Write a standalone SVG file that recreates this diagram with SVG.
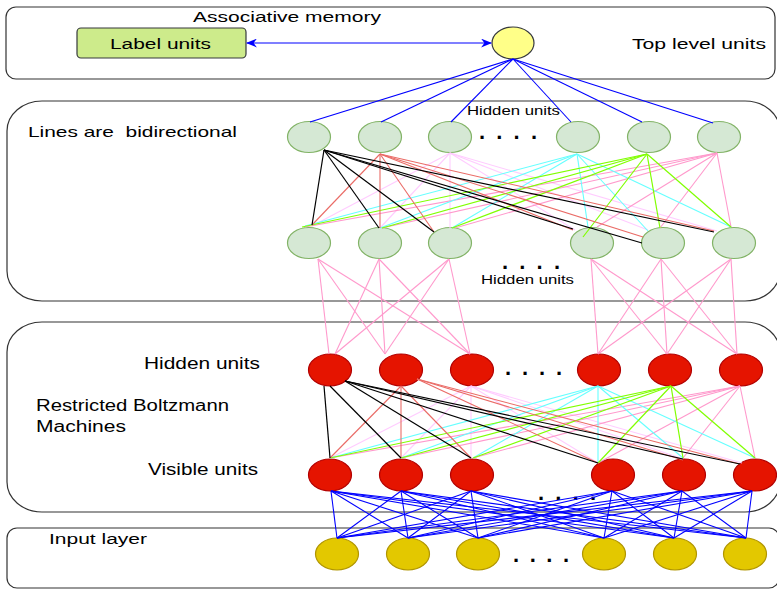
<svg xmlns="http://www.w3.org/2000/svg" width="777" height="589" viewBox="0 0 777 589">
  <style>
    .box { fill: #ffffff; stroke: #333333; stroke-width: 1.2; }
    .lbl { font-family: "Liberation Sans", Arial, sans-serif; fill: #000000; white-space: pre; }
    .dots { font-family: "Liberation Sans", Arial, sans-serif; font-weight: bold; font-size: 22px; fill: #000000; }
    .g { fill: #d5e8d4; stroke: #82b366; stroke-width: 1.2; }
    .r { fill: #e51400; stroke: #b20000; stroke-width: 1.2; }
    .y { fill: #e3c800; stroke: #b09500; stroke-width: 1.2; }
    .k { stroke: #000000; stroke-width: 1.2; }
    .rd { stroke: #ea6b66; stroke-width: 1.1; }
    .lp { stroke: #ffccff; stroke-width: 1.1; }
    .cy { stroke: #66ffff; stroke-width: 1.1; }
    .gr { stroke: #80ff00; stroke-width: 1.2; }
    .pk { stroke: #ff99cc; stroke-width: 1.1; }
    .bl { stroke: #0000ff; stroke-width: 1.1; }
  </style>
  <defs>
    <marker id="arrow" viewBox="0 0 10 8" refX="9" refY="4" markerWidth="11" markerHeight="9" markerUnits="userSpaceOnUse" orient="auto-start-reverse">
      <path d="M0,0 L10,4 L0,8 L3,4 Z" fill="#0000ff"/>
    </marker>
  </defs>

  <rect width="777" height="589" fill="#ffffff"/>

  <!-- layer containers -->
  <g id="containers">
    <rect id="assoc-box" class="box" x="6" y="7" width="769" height="72" rx="10" ry="10"/>
    <rect id="dbn-box" class="box" x="7" y="101" width="773" height="200" rx="35" ry="30"/>
    <rect id="rbm-box" class="box" x="7" y="322" width="773" height="190" rx="35" ry="30"/>
    <rect id="input-box" class="box" x="7" y="528" width="772" height="60" rx="10" ry="10"/>
  </g>

  <!-- labels -->
  <g id="labels">
    <text class="lbl" x="193" y="22" font-size="15.5" textLength="188" lengthAdjust="spacingAndGlyphs">Associative memory</text>
    <text class="lbl" x="632" y="49" font-size="15.5" textLength="134" lengthAdjust="spacingAndGlyphs">Top level units</text>
    <text class="lbl" x="28" y="137" font-size="15" textLength="209" lengthAdjust="spacingAndGlyphs" xml:space="preserve">Lines are  bidirectional</text>
    <text class="lbl" x="467" y="115" font-size="12.5" textLength="93" lengthAdjust="spacingAndGlyphs">Hidden units</text>
    <text class="lbl" x="481" y="284" font-size="12.5" textLength="93" lengthAdjust="spacingAndGlyphs">Hidden units</text>
    <text class="lbl" x="144" y="369" font-size="16" textLength="116" lengthAdjust="spacingAndGlyphs">Hidden units</text>
    <text class="lbl" x="36" y="411" font-size="16" textLength="193" lengthAdjust="spacingAndGlyphs">Restricted Boltzmann</text>
    <text class="lbl" x="36" y="432" font-size="16" textLength="90" lengthAdjust="spacingAndGlyphs">Machines</text>
    <text class="lbl" x="148" y="475" font-size="16" textLength="110" lengthAdjust="spacingAndGlyphs">Visible units</text>
    <text class="lbl" x="49" y="544" font-size="15.5" textLength="98" lengthAdjust="spacingAndGlyphs">Input layer</text>
    <text class="dots" x="479" y="139" textLength="58">. . . .</text>
    <text class="dots" x="502" y="269" textLength="58">. . . .</text>
    <text class="dots" x="505" y="375" textLength="57">. . . .</text>
    <text class="dots" x="538" y="500" textLength="58">. . . .</text>
    <text class="dots" x="513" y="562" textLength="56">. . . .</text>
  </g>

  <!-- associative memory nodes -->
  <g id="label-units">
    <rect x="77" y="28" width="169" height="30" rx="4" ry="4" fill="#cdeb8b" stroke="#36393d" stroke-width="1.2"/>
    <text class="lbl" x="110" y="49" font-size="15.5" textLength="101" lengthAdjust="spacingAndGlyphs">Label units</text>
  </g>
  <g id="top-unit">
    <ellipse cx="513" cy="43" rx="21" ry="16" fill="#ffff88" stroke="#36393d" stroke-width="1.2"/>
  </g>

  <!-- upper hidden layer -->
  <g id="h2-1"><ellipse class="g" cx="309" cy="137" rx="21.5" ry="15.5"/></g>
  <g id="h2-2"><ellipse class="g" cx="380" cy="137" rx="21.5" ry="15.5"/></g>
  <g id="h2-3"><ellipse class="g" cx="450" cy="137" rx="21.5" ry="15.5"/></g>
  <g id="h2-4"><ellipse class="g" cx="578" cy="137" rx="21.5" ry="15.5"/></g>
  <g id="h2-5"><ellipse class="g" cx="649" cy="137" rx="21.5" ry="15.5"/></g>
  <g id="h2-6"><ellipse class="g" cx="719" cy="137" rx="21.5" ry="15.5"/></g>

  <!-- lower hidden layer -->
  <g id="h1-1"><ellipse class="g" cx="309" cy="243" rx="21.5" ry="15.5"/></g>
  <g id="h1-2"><ellipse class="g" cx="380" cy="243" rx="21.5" ry="15.5"/></g>
  <g id="h1-3"><ellipse class="g" cx="450" cy="243" rx="21.5" ry="15.5"/></g>
  <g id="h1-4"><ellipse class="g" cx="592" cy="243" rx="21.5" ry="15.5"/></g>
  <g id="h1-5"><ellipse class="g" cx="663" cy="243" rx="21.5" ry="15.5"/></g>
  <g id="h1-6"><ellipse class="g" cx="734" cy="243" rx="21.5" ry="15.5"/></g>

  <!-- RBM hidden units -->
  <g id="rh-1"><ellipse class="r" cx="330" cy="370" rx="21.5" ry="16"/></g>
  <g id="rh-2"><ellipse class="r" cx="401" cy="370" rx="21.5" ry="16"/></g>
  <g id="rh-3"><ellipse class="r" cx="472" cy="370" rx="21.5" ry="16"/></g>
  <g id="rh-4"><ellipse class="r" cx="599" cy="370" rx="21.5" ry="16"/></g>
  <g id="rh-5"><ellipse class="r" cx="670" cy="370" rx="21.5" ry="16"/></g>
  <g id="rh-6"><ellipse class="r" cx="741" cy="370" rx="21.5" ry="16"/></g>

  <!-- RBM visible units -->
  <g id="rv-1"><ellipse class="r" cx="330" cy="475" rx="21.5" ry="16"/></g>
  <g id="rv-2"><ellipse class="r" cx="401" cy="475" rx="21.5" ry="16"/></g>
  <g id="rv-3"><ellipse class="r" cx="472" cy="475" rx="21.5" ry="16"/></g>
  <g id="rv-4"><ellipse class="r" cx="613" cy="475" rx="21.5" ry="16"/></g>
  <g id="rv-5"><ellipse class="r" cx="684" cy="475" rx="21.5" ry="16"/></g>
  <g id="rv-6"><ellipse class="r" cx="755" cy="475" rx="21.5" ry="16"/></g>

  <!-- input layer -->
  <g id="in-1"><ellipse class="y" cx="337" cy="554" rx="21.5" ry="16"/></g>
  <g id="in-2"><ellipse class="y" cx="408" cy="554" rx="21.5" ry="16"/></g>
  <g id="in-3"><ellipse class="y" cx="478" cy="554" rx="21.5" ry="16"/></g>
  <g id="in-4"><ellipse class="y" cx="604" cy="554" rx="21.5" ry="16"/></g>
  <g id="in-5"><ellipse class="y" cx="675" cy="554" rx="21.5" ry="16"/></g>
  <g id="in-6"><ellipse class="y" cx="745" cy="554" rx="21.5" ry="16"/></g>

  <!-- connectors -->
  <g id="connectors" fill="none">
    <!-- label units <-> top unit -->
    <line class="bl" x1="247" y1="43" x2="491" y2="43" marker-start="url(#arrow)" marker-end="url(#arrow)"/>

    <!-- top unit to upper hidden layer -->
    <g class="bl">
      <line x1="513" y1="59" x2="310" y2="122"/>
      <line x1="513" y1="59" x2="381" y2="122"/>
      <line x1="513" y1="59" x2="451" y2="122"/>
      <line x1="513" y1="59" x2="571" y2="122"/>
      <line x1="513" y1="59" x2="642" y2="122"/>
      <line x1="513" y1="59" x2="713" y2="123"/>
    </g>

    <!-- upper hidden to lower hidden -->
    <g class="lp">
      <line x1="450" y1="153" x2="312" y2="226"/>
      <line x1="450" y1="153" x2="380" y2="228"/>
      <line x1="450" y1="153" x2="450" y2="228"/>
      <line x1="450" y1="153" x2="575" y2="230"/>
      <line x1="450" y1="153" x2="648" y2="230"/>
      <line x1="450" y1="153" x2="717" y2="231"/>
    </g>
    <g class="pk">
      <line x1="717" y1="153" x2="305" y2="227"/>
      <line x1="717" y1="153" x2="382" y2="228"/>
      <line x1="717" y1="153" x2="455" y2="228"/>
      <line x1="717" y1="153" x2="597" y2="227"/>
      <line x1="717" y1="153" x2="660" y2="228"/>
      <line x1="717" y1="153" x2="731" y2="227"/>
    </g>
    <g class="cy">
      <line x1="577" y1="154" x2="305" y2="226"/>
      <line x1="577" y1="154" x2="380" y2="228"/>
      <line x1="577" y1="154" x2="452" y2="228"/>
      <line x1="577" y1="154" x2="588" y2="227"/>
      <line x1="577" y1="154" x2="648" y2="231"/>
      <line x1="577" y1="154" x2="731" y2="227"/>
    </g>
    <g class="gr">
      <line x1="647" y1="154" x2="302" y2="227"/>
      <line x1="647" y1="154" x2="382" y2="228"/>
      <line x1="647" y1="154" x2="452" y2="228"/>
      <line x1="647" y1="154" x2="583" y2="237"/>
      <line x1="647" y1="154" x2="660" y2="228"/>
      <line x1="647" y1="154" x2="731" y2="227"/>
    </g>
    <g class="rd">
      <line x1="380" y1="154" x2="312" y2="225"/>
      <line x1="380" y1="154" x2="380" y2="228"/>
      <line x1="380" y1="154" x2="434" y2="232"/>
      <line x1="380" y1="154" x2="573" y2="230"/>
      <line x1="380" y1="154" x2="643" y2="237"/>
      <line x1="380" y1="154" x2="714" y2="231"/>
    </g>
    <g class="k">
      <line x1="324" y1="150" x2="312" y2="225"/>
      <line x1="324" y1="150" x2="379" y2="228"/>
      <line x1="324" y1="150" x2="434" y2="232"/>
      <line x1="324" y1="150" x2="573" y2="229"/>
      <line x1="324" y1="150" x2="642" y2="243"/>
      <line x1="324" y1="150" x2="714" y2="232"/>
    </g>

    <!-- lower hidden to RBM hidden units -->
    <g class="pk">
      <line x1="318" y1="259" x2="329" y2="354"/>
      <line x1="318" y1="259" x2="385" y2="354"/>
      <line x1="318" y1="259" x2="470" y2="354"/>
      <line x1="379" y1="259" x2="335" y2="354"/>
      <line x1="379" y1="259" x2="385" y2="354"/>
      <line x1="379" y1="259" x2="470" y2="354"/>
      <line x1="449" y1="259" x2="335" y2="354"/>
      <line x1="449" y1="259" x2="385" y2="354"/>
      <line x1="449" y1="259" x2="470" y2="354"/>
      <line x1="591" y1="259" x2="598" y2="354"/>
      <line x1="591" y1="259" x2="667" y2="354"/>
      <line x1="591" y1="259" x2="737" y2="354"/>
      <line x1="661" y1="259" x2="598" y2="354"/>
      <line x1="661" y1="259" x2="667" y2="354"/>
      <line x1="661" y1="259" x2="737" y2="354"/>
      <line x1="731" y1="259" x2="598" y2="354"/>
      <line x1="731" y1="259" x2="667" y2="354"/>
      <line x1="731" y1="259" x2="737" y2="354"/>
    </g>

    <!-- RBM hidden to visible -->
    <g class="lp">
      <line x1="471" y1="386" x2="330" y2="458"/>
      <line x1="471" y1="386" x2="401" y2="458"/>
      <line x1="471" y1="386" x2="471" y2="458"/>
      <line x1="471" y1="386" x2="598" y2="463"/>
      <line x1="471" y1="386" x2="683" y2="459"/>
      <line x1="471" y1="386" x2="742" y2="463"/>
    </g>
    <g class="pk">
      <line x1="740" y1="386" x2="330" y2="458"/>
      <line x1="740" y1="386" x2="401" y2="458"/>
      <line x1="740" y1="386" x2="473" y2="458"/>
      <line x1="740" y1="386" x2="598" y2="463"/>
      <line x1="740" y1="386" x2="683" y2="458"/>
      <line x1="740" y1="386" x2="755" y2="458"/>
    </g>
    <g class="cy">
      <line x1="598" y1="386" x2="330" y2="458"/>
      <line x1="598" y1="386" x2="401" y2="458"/>
      <line x1="598" y1="386" x2="473" y2="458"/>
      <line x1="598" y1="386" x2="598" y2="463"/>
      <line x1="598" y1="386" x2="683" y2="458"/>
      <line x1="598" y1="386" x2="755" y2="458"/>
    </g>
    <g class="gr">
      <line x1="671" y1="386" x2="330" y2="458"/>
      <line x1="671" y1="386" x2="401" y2="458"/>
      <line x1="671" y1="386" x2="473" y2="458"/>
      <line x1="671" y1="386" x2="598" y2="463"/>
      <line x1="671" y1="386" x2="683" y2="458"/>
      <line x1="671" y1="386" x2="755" y2="458"/>
    </g>
    <g class="rd">
      <line x1="401" y1="386" x2="330" y2="458"/>
      <line x1="401" y1="386" x2="401" y2="458"/>
      <line x1="401" y1="386" x2="471" y2="458"/>
      <line x1="417" y1="379" x2="598" y2="463"/>
      <line x1="417" y1="379" x2="683" y2="460"/>
      <line x1="417" y1="379" x2="740" y2="464"/>
    </g>
    <g class="k">
      <line x1="324" y1="386" x2="330" y2="458"/>
      <line x1="330" y1="386" x2="401" y2="458"/>
      <line x1="345" y1="381" x2="471" y2="458"/>
      <line x1="345" y1="381" x2="598" y2="463"/>
      <line x1="345" y1="381" x2="683" y2="459"/>
      <line x1="345" y1="381" x2="740" y2="464"/>
    </g>

    <!-- RBM visible to input layer -->
    <g class="bl">
      <line x1="331" y1="491" x2="337" y2="538"/>
      <line x1="331" y1="491" x2="408" y2="538"/>
      <line x1="331" y1="491" x2="478" y2="538"/>
      <line x1="331" y1="491" x2="604" y2="538"/>
      <line x1="331" y1="491" x2="674" y2="538"/>
      <line x1="331" y1="491" x2="746" y2="538"/>
      <line x1="401" y1="491" x2="337" y2="538"/>
      <line x1="401" y1="491" x2="408" y2="538"/>
      <line x1="401" y1="491" x2="478" y2="538"/>
      <line x1="401" y1="491" x2="604" y2="538"/>
      <line x1="401" y1="491" x2="674" y2="538"/>
      <line x1="401" y1="491" x2="746" y2="538"/>
      <line x1="471" y1="491" x2="337" y2="538"/>
      <line x1="471" y1="491" x2="408" y2="538"/>
      <line x1="471" y1="491" x2="478" y2="538"/>
      <line x1="471" y1="491" x2="604" y2="538"/>
      <line x1="471" y1="491" x2="674" y2="538"/>
      <line x1="471" y1="491" x2="746" y2="538"/>
      <line x1="612" y1="491" x2="337" y2="538"/>
      <line x1="612" y1="491" x2="408" y2="538"/>
      <line x1="612" y1="491" x2="478" y2="538"/>
      <line x1="612" y1="491" x2="604" y2="538"/>
      <line x1="612" y1="491" x2="674" y2="538"/>
      <line x1="612" y1="491" x2="746" y2="538"/>
      <line x1="682" y1="491" x2="337" y2="538"/>
      <line x1="682" y1="491" x2="408" y2="538"/>
      <line x1="682" y1="491" x2="478" y2="538"/>
      <line x1="682" y1="491" x2="604" y2="538"/>
      <line x1="682" y1="491" x2="674" y2="538"/>
      <line x1="682" y1="491" x2="746" y2="538"/>
      <line x1="752" y1="491" x2="337" y2="538"/>
      <line x1="752" y1="491" x2="408" y2="538"/>
      <line x1="752" y1="491" x2="478" y2="538"/>
      <line x1="752" y1="491" x2="604" y2="538"/>
      <line x1="752" y1="491" x2="674" y2="538"/>
      <line x1="752" y1="491" x2="746" y2="538"/>
    </g>
  </g>
</svg>
